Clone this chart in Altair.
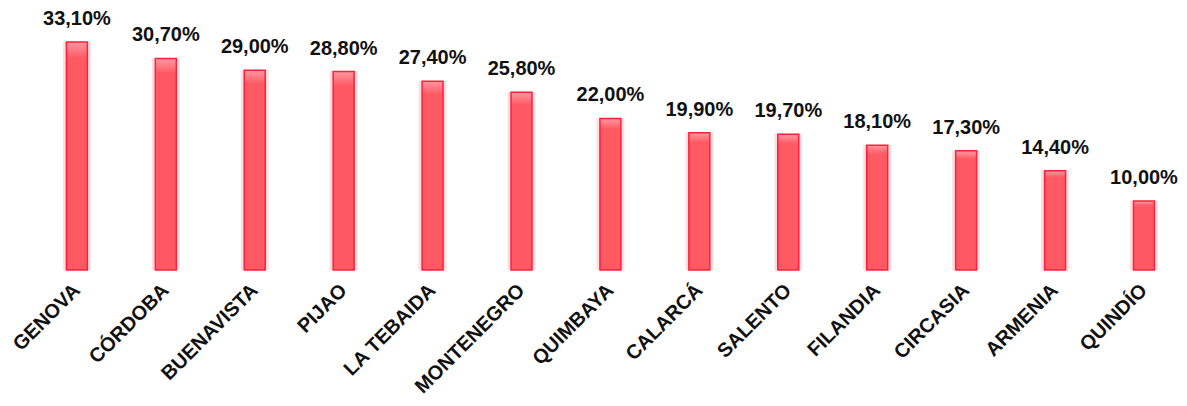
import altair as alt
import pandas as pd

municipios = ["GENOVA", "CÓRDOBA", "BUENAVISTA", "PIJAO", "LA TEBAIDA", "MONTENEGRO",
              "QUIMBAYA", "CALARCÁ", "SALENTO", "FILANDIA", "CIRCASIA", "ARMENIA", "QUINDÍO"]
valores = [33.1, 30.7, 29.0, 28.8, 27.4, 25.8, 22.0, 19.9, 19.7, 18.1, 17.3, 14.4, 10.0]
etiquetas = ["33,10%", "30,70%", "29,00%", "28,80%", "27,40%", "25,80%", "22,00%",
             "19,90%", "19,70%", "18,10%", "17,30%", "14,40%", "10,00%"]

df = pd.DataFrame({"m": municipios, "v": valores, "t": etiquetas})

FONT = "Liberation Sans"

x = alt.X("m:N", sort=municipios, title=None,
          scale=alt.Scale(paddingInner=0.75, paddingOuter=0.448, align=0.7),
          axis=alt.Axis(labelAngle=-45, labelAlign="right", labelBaseline="middle",
                        labelFont=FONT, labelFontSize=20, labelFontWeight="bold",
                        labelColor="#111111", labelPadding=17, domain=False, ticks=False,
                        labelOverlap=False))
y = alt.Y("v:Q", title=None, scale=alt.Scale(domain=[0, 38], nice=False), axis=None)

base = alt.Chart(df).encode(x=x, y=y)

glow = base.mark_bar(size=28, color="#ff6b75", opacity=0.22)

bars = base.mark_bar(
    size=21,
    stroke="#ff1f38",
    strokeWidth=1.5,
    color=alt.Gradient(
        gradient="linear",
        stops=[alt.GradientStop(color="#ff9aa2", offset=0),
               alt.GradientStop(color="#ff5a64", offset=0.07),
               alt.GradientStop(color="#ff5a64", offset=1)],
        x1=0, x2=0, y1=0, y2=1,
    ),
)

labels = base.mark_text(
    baseline="bottom", dy=-13, font=FONT, fontSize=20, fontWeight="bold", color="#111111"
).encode(text="t:N")

chart = (glow + bars + labels).properties(
    width=1170, height=262,
    autosize="none",
    padding={"left": 2, "top": 0, "right": 0, "bottom": 128},
).configure_view(stroke=None)

chart.save("out.html", embed_options={"renderer": "svg", "actions": False})
